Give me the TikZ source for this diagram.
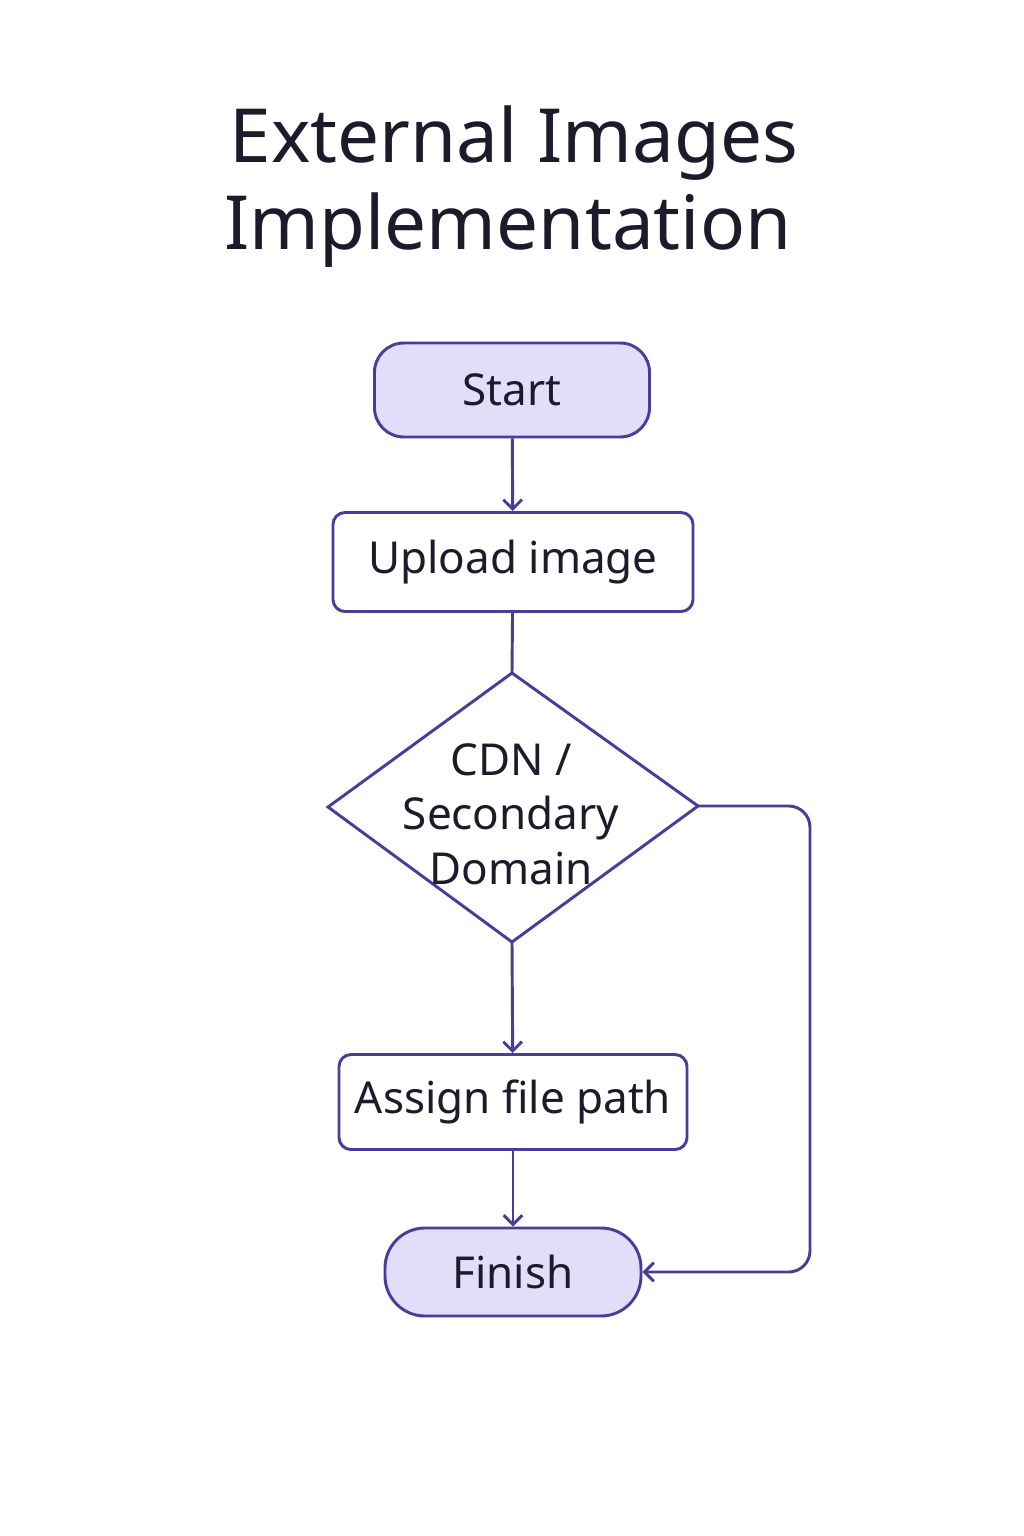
\documentclass[tikz,border=0pt]{standalone}
\usepackage{fontspec}
\setmainfont{Noto Sans}
\usetikzlibrary{arrows.meta}
\definecolor{ln}{HTML}{4A3C9A}
\definecolor{fl}{HTML}{E1DEF9}
\definecolor{tx}{HTML}{1C1B2B}
\tikzset{
 box/.style={draw=ln,line width=2.2pt,text=tx,font=\fontsize{33}{40}\selectfont,inner sep=0pt},
 conn/.style={draw=ln,line width=2.2pt,-{Straight Barb[length=7pt,width=14pt]}},
}
\begin{document}
\begin{tikzpicture}[x=0.75pt,y=-0.75pt]
\useasboundingbox[fill=white] (0,0) rectangle (1024,1536);
\node[text=tx,font=\bfseries\fontsize{56}{62}\selectfont] (t1) at (514,143) {External Images};
\node[text=tx,font=\bfseries\fontsize{56}{62}\selectfont] (t2) at (508,230) {Implementation};
\node[box,fill=fl,rounded corners=22pt,minimum width=275*0.75pt,minimum height=94*0.75pt] (s) at (512,390) {Start};
\node[box,rounded corners=9pt,minimum width=360*0.75pt,minimum height=99*0.75pt] (u) at (513,562) {Upload image};
\draw[ln,line width=2.2pt,fill=white] (328,807) coordinate (dl) -- (512,673) coordinate (dt) -- (698,806) coordinate (dr) -- (512,942) coordinate (db) -- cycle;
\node[text=tx,font=\fontsize{33}{41}\selectfont,align=center] (d) at (511,814) {CDN /\\Secondary\\Domain};
\node[box,rounded corners=9pt,minimum width=348*0.75pt,minimum height=95*0.75pt] (a) at (513,1102) {Assign file path};
\node[box,fill=fl,rounded corners=30pt,minimum width=256*0.75pt,minimum height=88*0.75pt] (f) at (513,1272) {Finish};
\draw[conn] (s) -- (u);
\draw[ln,line width=2.2pt] (u) -- (dt);
\draw[conn] (db) -- (a);
\draw[conn] (a) -- (f);
\draw[conn,rounded corners=16pt] (dr) -- (810,806) -- (810,1272) -- (f.east);
\end{tikzpicture}
\end{document}
